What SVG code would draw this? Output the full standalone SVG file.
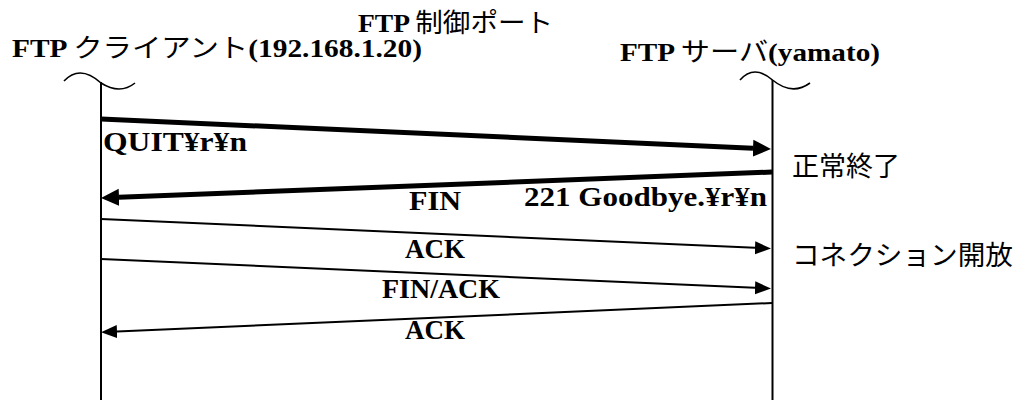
<svg xmlns="http://www.w3.org/2000/svg" width="1015" height="400" viewBox="0 0 1015 400">
<style>
.lat{font-family:"Liberation Serif","Noto Sans CJK JP",serif;font-weight:bold;font-size:26px;fill:#000}
.body{font-family:"Liberation Serif","Noto Sans CJK JP",serif;font-weight:bold;font-size:28px;fill:#000}
.jp{font-family:"Noto Sans CJK JP",sans-serif;font-weight:normal}
.side{font-family:"Noto Sans CJK JP",sans-serif;font-size:27px;fill:#000}
.life{stroke:#000;stroke-width:2;fill:none}
.tilde{stroke:#000;stroke-width:1.6;fill:none}
.thick{stroke:#000;stroke-width:5;fill:none;marker-end:url(#hBig)}
.thin{stroke:#000;stroke-width:2;fill:none;marker-end:url(#hSmall)}
</style>
<defs>
<marker id="hBig" markerUnits="userSpaceOnUse" markerWidth="20" markerHeight="20" refX="0" refY="9" orient="auto" viewBox="0 0 20 18">
<path d="M0,0.5 L18,9 L0,17.5 Z" fill="#000"/>
</marker>
<marker id="hSmall" markerUnits="userSpaceOnUse" markerWidth="18" markerHeight="16" refX="0" refY="7" orient="auto" viewBox="0 0 18 14">
<path d="M0,0.5 L16,7 L0,13.5 Z" fill="#000"/>
</marker>
</defs>
<g id="title">
<text class="lat" x="358" y="32" textLength="195" lengthAdjust="spacingAndGlyphs">FTP <tspan class="jp">制御ポート</tspan></text>
</g>
<g id="client">
<text class="lat" x="12" y="57" textLength="410" lengthAdjust="spacingAndGlyphs">FTP <tspan class="jp">クライアント</tspan>(192.168.1.20)</text>
<path class="tilde" d="M64,81 Q80,64 101,83 Q120,95 135,83"/>
<line class="life" x1="101" y1="82" x2="101" y2="400"/>
</g>
<g id="server">
<text class="lat" x="620" y="61" textLength="260" lengthAdjust="spacingAndGlyphs">FTP <tspan class="jp">サーバ</tspan>(yamato)</text>
<path class="tilde" d="M740,80 Q754,64 772.5,80 Q792,96 810,83"/>
<line class="life" x1="772.5" y1="80" x2="772.5" y2="400"/>
</g>
<g id="connectors">
<line class="thick" x1="101" y1="119" x2="753" y2="148.2"/>
<line class="thick" x1="772" y1="172" x2="119" y2="197.3"/>
<line class="thin" x1="101" y1="219" x2="755" y2="247.8"/>
<line class="thin" x1="101" y1="259" x2="755" y2="287.8"/>
<line class="thin" x1="772" y1="303" x2="117" y2="331.6"/>
</g>
<g id="labels">
<text class="body" x="103" y="151" textLength="144" lengthAdjust="spacingAndGlyphs">QUIT¥r¥n</text>
<text class="body" x="524" y="206" textLength="243" lengthAdjust="spacingAndGlyphs">221 Goodbye.¥r¥n</text>
<text class="body" x="409" y="210" textLength="52" lengthAdjust="spacingAndGlyphs">FIN</text>
<text class="body" x="405" y="258" textLength="60" lengthAdjust="spacingAndGlyphs">ACK</text>
<text class="body" x="382" y="298" textLength="118" lengthAdjust="spacingAndGlyphs">FIN/ACK</text>
<text class="body" x="405" y="339" textLength="60" lengthAdjust="spacingAndGlyphs">ACK</text>
</g>
<g id="notes">
<text class="side" x="792" y="176">正常終了</text>
<text class="side" x="792" y="265" textLength="221" lengthAdjust="spacingAndGlyphs">コネクション開放</text>
</g>
</svg>
